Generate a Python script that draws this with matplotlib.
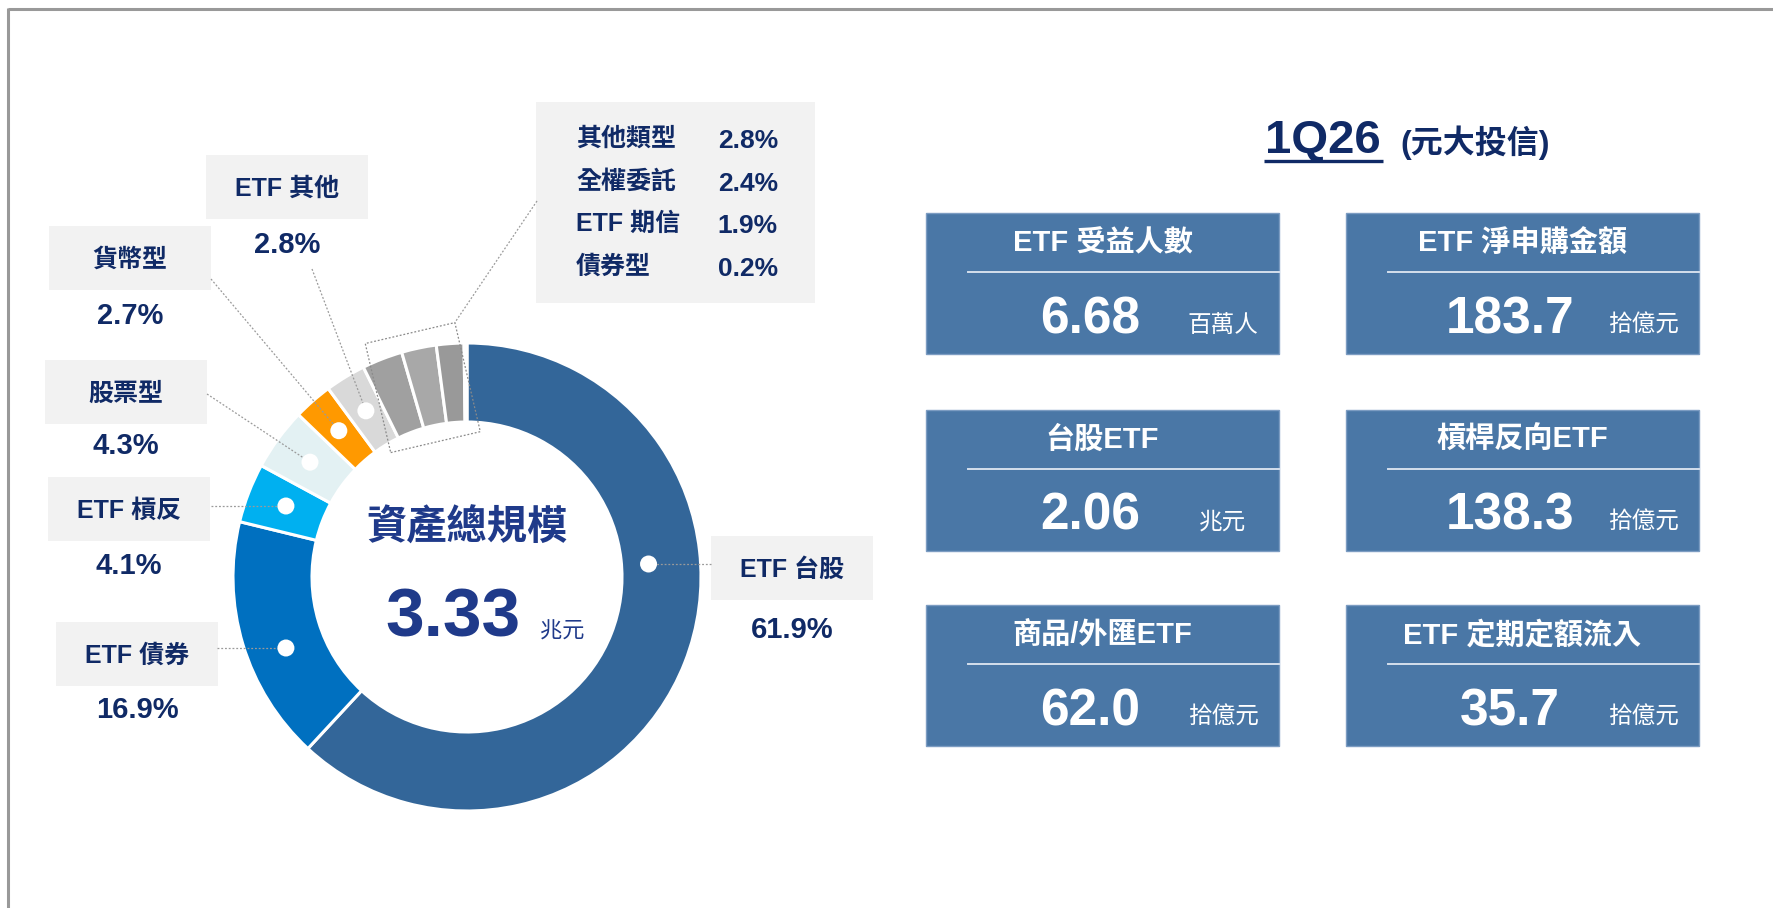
import matplotlib
matplotlib.use("Agg")
import matplotlib.pyplot as plt
from matplotlib.patches import Rectangle, Circle
import numpy as np

plt.rcParams['font.family'] = ['Liberation Sans', 'Noto Sans CJK TC', 'DejaVu Sans']

W, H = 1774, 908

# ---- data ----
slice_names = ['ETF 台股', 'ETF 債券', 'ETF 槓反', '股票型', '貨幣型', 'ETF 其他',
               '其他類型', '全權委託', 'ETF 期信', '債券型']
slice_pcts = [61.9, 16.9, 4.1, 4.3, 2.7, 2.8, 2.8, 2.4, 1.9, 0.2]
slice_colors = ['#336699', '#0070C0', '#00B0F0', '#E3F1F3', '#FF9900', '#D9D9D9',
                '#A0A0A0', '#A8A8A8', '#999999', '#8C8C8C']
boxed_names = ['其他類型', '全權委託', 'ETF 期信', '債券型']

center_title = '資產總規模'
total_value = '3.33'
total_unit = '兆元'

period = '1Q26'
company = '(元大投信)'

card_titles = ['ETF 受益人數', 'ETF 淨申購金額', '台股ETF', '槓桿反向ETF',
               '商品/外匯ETF', 'ETF 定期定額流入']
card_values = ['6.68', '183.7', '2.06', '138.3', '62.0', '35.7']
card_units = ['百萬人', '拾億元', '兆元', '拾億元', '拾億元', '拾億元']

# ---- layout (pixels, y measured from the top) ----
navy = '#102A66'
cx, cy = 467, 577
R_out, ring_w = 234, 79
r_mid = R_out - ring_w / 2
# name: (box left, box top, pct y, leader start x, leader start y, horizontal leader, dot radius)
label_layout = {
    'ETF 台股': (711, 536, 627, 711, 564, True, 182),
    'ETF 債券': (56, 622, 707, 217, 648, True, r_mid),
    'ETF 槓反': (48, 477, 563, 211, 506, True, r_mid),
    '股票型': (45, 360, 443, 207, 394, False, r_mid),
    '貨幣型': (49, 226, 313, 211, 279, False, r_mid),
    'ETF 其他': (206, 155, 242, 312, 269, False, r_mid),
}
box_w, box_h = 162, 64
info_box = (536, 102, 279, 201)
card_left = [926, 1346]
card_top = [213, 410, 605]
card_w, card_h = 353, 141


def up(y):
    return H - y


fig = plt.figure(figsize=(W / 100, H / 100), dpi=100)
ax = fig.add_axes([0, 0, 1, 1])

wedges, _ = ax.pie(slice_pcts, colors=slice_colors, startangle=90, counterclock=False,
                   radius=R_out, center=(cx, up(cy)),
                   wedgeprops=dict(width=ring_w, edgecolor='white', linewidth=2.2))
ax.set_xlim(0, W)
ax.set_ylim(0, H)
ax.set_aspect('auto')
ax.axis('off')

# frame lines (top and left)
ax.plot([8, W], [up(9), up(9)], color='#999999', lw=2.2, solid_capstyle='butt')
ax.plot([8.5, 8.5], [0, up(8)], color='#999999', lw=2.2, solid_capstyle='butt')

# slice angles
cum = np.cumsum([0] + slice_pcts)
ang_start = 90 - 3.6 * cum[:-1]
ang_end = 90 - 3.6 * cum[1:]
ang_mid = dict(zip(slice_names, (ang_start + ang_end) / 2))

dots_kw = dict(ls=(0, (1.5, 1.5)), color='#9A9A9A', lw=0.9, zorder=4)
for name, pct in zip(slice_names, slice_pcts):
    if name not in label_layout:
        continue
    bx, by, py, lx, ly, horiz, rd = label_layout[name]
    if horiz:
        s = np.clip((cy - ly) / rd, -1, 1)
        phi = np.degrees(np.arcsin(s))
        if np.cos(np.radians(ang_mid[name])) < 0:
            phi = 180 - phi
    else:
        phi = ang_mid[name]
    dx = cx + rd * np.cos(np.radians(phi))
    dy = up(cy) + rd * np.sin(np.radians(phi))
    ax.plot([lx, dx], [up(ly), dy], **dots_kw)
    ax.add_patch(Circle((dx, dy), 8.5, fc='white', ec='none', zorder=5))
    ax.add_patch(Rectangle((bx, up(by + box_h)), box_w, box_h, fc='#F2F2F2', ec='none', zorder=3))
    ax.text(bx + box_w / 2, up(by + box_h / 2 + 2), name, ha='center', va='center',
            fontsize=18, fontweight='bold', color=navy, zorder=6)
    ax.text(bx + box_w / 2, up(py + 3), f'{pct:.1f}%', ha='center', va='center',
            fontsize=21, fontweight='bold', color=navy, zorder=6)

# dotted frame around the small grey slices
boxed_idx = [slice_names.index(n) for n in boxed_names]
phi_b = (ang_start[boxed_idx[0]] + ang_end[boxed_idx[-1]]) / 2
rc_x = cx + r_mid * np.cos(np.radians(phi_b))
rc_y = up(cy) + r_mid * np.sin(np.radians(phi_b))
fw, fh = 92, 112
rot = phi_b - 90
ax.add_patch(Rectangle((rc_x - fw / 2, rc_y - fh / 2), fw, fh, angle=rot,
                       rotation_point='center', fill=False, ec='#8A8A8A', lw=0.9,
                       ls=(0, (1.5, 1.5)), zorder=4))
t = np.radians(rot)
corner_x = rc_x + (fw / 2) * np.cos(t) - (fh / 2) * np.sin(t)
corner_y = rc_y + (fw / 2) * np.sin(t) + (fh / 2) * np.cos(t)

ix, iy, iw, ih = info_box
ax.add_patch(Rectangle((ix, up(iy + ih)), iw, ih, fc='#F2F2F2', ec='none', zorder=3))
ax.plot([ix + 1, corner_x], [up(iy + 99), corner_y], **dots_kw)
for i, idx in enumerate(boxed_idx):
    ry = iy + 37 + i * 42.7
    ax.text(ix + 40, up(ry), slice_names[idx], ha='left', va='center',
            fontsize=18, fontweight='bold', color=navy, zorder=6)
    ax.text(ix + 242, up(ry + 2), f'{slice_pcts[idx]:.1f}%', ha='right', va='center',
            fontsize=19, fontweight='bold', color=navy, zorder=6)

# centre of donut
ax.text(cx, up(528), center_title, ha='center', va='center', fontsize=29,
        fontweight='bold', color='#1F3A8A', family=['Noto Sans CJK TC'])
ax.text(453, up(636.5), total_value, ha='center', va='baseline', fontsize=50,
        fontweight='bold', color='#1F3A8A')
ax.text(540, up(631), total_unit, ha='left', va='center', fontsize=16,
        color='#1F3A8A', family=['Noto Sans CJK TC'])

# title on the right
ax.text(1323, up(153), period, ha='center', va='baseline', fontsize=34,
        fontweight='bold', color=navy)
ax.plot([1264, 1383], [up(161), up(161)], color=navy, lw=2.4, solid_capstyle='butt')
ax.text(1400, up(153), company, ha='left', va='baseline', fontsize=23,
        fontweight='bold', color=navy)

# KPI cards
for k, (title, val, unit) in enumerate(zip(card_titles, card_values, card_units)):
    x0 = card_left[k % 2]
    y0 = card_top[k // 2]
    ax.add_patch(Rectangle((x0, up(y0 + card_h)), card_w, card_h, fc='#4A77A6',
                           ec='#7C9CC2', lw=1.0, zorder=2))
    ax.text(x0 + card_w / 2, up(y0 + 30), title, ha='center', va='center',
            fontsize=21, fontweight='bold', color='white', zorder=3)
    ax.plot([x0 + 42, x0 + card_w], [up(y0 + 59), up(y0 + 59)], color='#D5DFEC',
            lw=1.4, zorder=3)
    ax.text(x0 + 164, up(y0 + 120), val, ha='center', va='baseline', fontsize=37,
            fontweight='bold', color='white', zorder=3)
    ax.text(x0 + 297, up(y0 + 112), unit, ha='center', va='center', fontsize=17,
            color='white', zorder=3, family=['Noto Sans CJK TC'])

fig.savefig('out.png', dpi=100)
